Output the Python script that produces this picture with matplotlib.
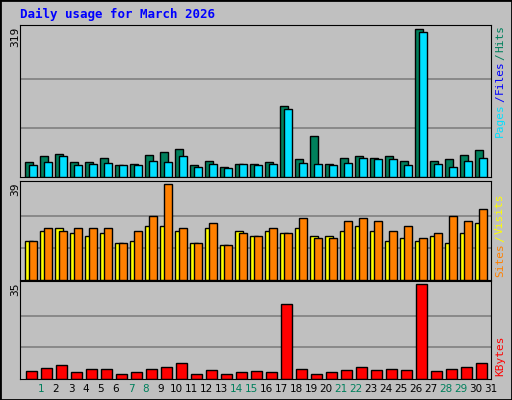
import numpy as np
import matplotlib.pyplot as plt

days = np.arange(1, 32)
hits = [33, 45, 50, 33, 33, 40, 27, 29, 48, 55, 61, 27, 35, 22, 29, 29, 33, 154, 38, 89,
        29, 40, 45, 42, 45, 35, 319, 35, 38, 48, 59]
files = [27, 33, 46, 27, 29, 31, 25, 25, 35, 33, 46, 22, 29, 20, 29, 27, 29, 148, 31, 29,
         27, 31, 40, 38, 38, 27, 313, 29, 22, 35, 40]
visits = [16, 20, 21, 19, 18, 19, 15, 16, 22, 22, 20, 15, 21, 14, 20, 18, 20, 19, 21, 18,
          18, 20, 22, 20, 16, 17, 16, 18, 15, 19, 23]
sites = [16, 21, 20, 21, 21, 21, 15, 20, 26, 39, 21, 15, 23, 14, 19, 18, 21, 19, 25, 17,
         17, 24, 25, 24, 20, 22, 17, 19, 26, 24, 29]
kbytes = [2.8, 4.0, 5.1, 2.4, 3.6, 3.6, 2.0, 2.4, 3.6, 4.3, 5.9, 2.0, 3.2, 1.7, 2.4, 2.8,
          2.4, 27.7, 3.6, 2.0, 2.4, 3.2, 4.3, 3.2, 3.6, 3.2, 35.0, 2.8, 3.6, 4.3, 5.9]
weekend = [1, 7, 8, 14, 15, 21, 22, 28, 29]

W, H = 512, 400
fig = plt.figure(figsize=(W / 100, H / 100), dpi=100, facecolor='#C0C0C0')
fig.patches.append(plt.Rectangle((0, 0), 1, 1, transform=fig.transFigure, fill=False,
                                 edgecolor='black', lw=2))
mono = 'DejaVu Sans Mono'
green = '#00805C'


def panel(y0, y1):
    ax = fig.add_axes([20 / W, 1 - y1 / H, 471 / W, (y1 - y0) / H])
    ax.set_facecolor('#C0C0C0')
    ax.set_xlim(0.5, 0.5 + 471 / 15)
    ax.set_xticks([])
    ax.set_yticks([])
    for s in ax.spines.values():
        s.set_color('black')
    return ax


def grid(ax, top):
    for f in (1 / 3, 2 / 3):
        ax.axhline(top * f, color='#808080', lw=1.2, zorder=0)
    ax.set_ylim(0, top * 1.03)


ax1 = panel(25, 177)
grid(ax1, 319)
ax1.bar(days - 0.167, hits, width=0.51, align='edge', color=green, edgecolor='black', lw=1, zorder=2)
ax1.bar(days + 0.1, files, width=0.51, align='edge', color='#00E0FF', edgecolor='black', lw=1, zorder=3)

ax2 = panel(181, 280)
grid(ax2, 39)
ax2.bar(days - 0.167, visits, width=0.51, align='edge', color='#FFFF00', edgecolor='black', lw=1, zorder=2)
ax2.bar(days + 0.1, sites, width=0.51, align='edge', color='#FF8000', edgecolor='black', lw=1, zorder=3)

ax3 = panel(281, 379)
grid(ax3, 35)
ax3.bar(days - 0.1, kbytes, width=0.71, align='edge', color='#FF0000', edgecolor='black', lw=1, zorder=2)

for d in days:
    fig.text((20 + (d - 0.5) * 15 + 13.5) / W, 1 - 389 / H, str(d), ha='center', va='center',
             fontsize=7.5, color=green if d in weekend else 'black')

fig.text(20 / W, 1 - 14 / H, 'Daily usage for March 2026', color='#0000FF', fontsize=9,
         fontweight='bold', family=mono, va='center')

for y, lab in ((27, '319'), (182, '39'), (282, '35')):
    fig.text(15 / W, 1 - y / H, lab, rotation=90, ha='center', va='top', fontsize=8, family=mono)

fig.canvas.draw()
renderer = fig.canvas.get_renderer()


def side(y_bottom, parts):
    # stack the rotated words upwards, measuring each one
    y = 1 - y_bottom / H
    for txt, col in parts:
        t = fig.text(500 / W, y, txt, rotation=90, ha='center', va='bottom', fontsize=8,
                     family=mono, color=col)
        bb = t.get_window_extent(renderer)
        y += bb.height / H + 1 / H


side(137, [('Pages', '#00E0FF'), ('/', '#0000FF'), ('Files', '#0000FF'), ('/', green), ('Hits', green)])
side(277, [('Sites', '#FF8000'), ('/', '#FFFF00'), ('Visits', '#FFFF00')])
side(376, [('KBytes', '#FF0000')])

fig.savefig('out.png', dpi=100, facecolor=fig.get_facecolor())
